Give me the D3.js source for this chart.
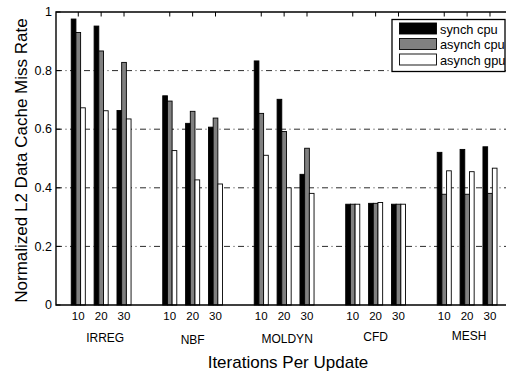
<!DOCTYPE html>
<html>
<head>
<meta charset="utf-8">
<script src="https://cdn.jsdelivr.net/npm/d3@7"></script>
<style>
  html, body { margin: 0; padding: 0; background: #fff; }
  svg { display: block; }
  text { font-family: "Liberation Sans", Arial, Helvetica, sans-serif; fill: #000; }
</style>
</head>
<body>
<svg id="chart" width="507" height="375"></svg>
<script>
// ---- data ----
const categories = ["IRREG", "NBF", "MOLDYN", "CFD", "MESH"];
const iterations = ["10", "20", "30"];
const seriesNames = ["synch cpu", "asynch cpu", "asynch gpu"];
const synchCpu  = [0.976, 0.952, 0.664, 0.714, 0.620, 0.607, 0.833, 0.702, 0.446, 0.344, 0.347, 0.344, 0.521, 0.531, 0.540];
const asynchCpu = [0.930, 0.867, 0.828, 0.696, 0.661, 0.638, 0.654, 0.592, 0.535, 0.344, 0.347, 0.344, 0.378, 0.378, 0.381];
const asynchGpu = [0.673, 0.663, 0.635, 0.527, 0.427, 0.413, 0.511, 0.400, 0.381, 0.344, 0.350, 0.344, 0.458, 0.455, 0.467];
const yTicks = [0, 0.2, 0.4, 0.6, 0.8, 1];
const yTickLabels = ["0", "0.2", "0.4", "0.6", "0.8", "1"];

// ---- layout / style ----
const fills = ["#000000", "#808080", "#ffffff"];
const catLabelDx = [4, 0, 3, 0, 2];
const catLabelY = [342, 343.5, 342.5, 340.5, 339.5];
const L = 56, R = 506, T = 12, B = 305;

const svg = d3.select("#chart");

// positions: group i, iteration j -> i*4 + j + 1
const pos = (i, j) => i * (iterations.length + 1) + j + 1;
const x = d3.scaleLinear().domain([0, 19.7]).range([L - 0.6, R]);
const y = d3.scaleLinear().domain([0, 1]).range([B, T]);
const unit = x(1) - x(0);
const bw = unit * 0.205;

// grid lines
const gridVals = yTicks.filter(v => v > 0 && v < 1);
svg.append("g").selectAll("line").data(gridVals).join("line")
  .attr("x1", L).attr("x2", R)
  .attr("y1", d => y(d)).attr("y2", d => y(d))
  .attr("stroke", "#2a2a2a").attr("stroke-width", 1)
  .attr("stroke-dasharray", "6,3.5,1,3.5");

// bars
const allSeries = [synchCpu, asynchCpu, asynchGpu];
const barData = [];
categories.forEach((c, i) => {
  iterations.forEach((it, j) => {
    allSeries.forEach((s, k) => {
      barData.push({ p: pos(i, j), k, v: s[i * iterations.length + j] });
    });
  });
});
svg.append("g").selectAll("rect").data(barData).join("rect")
  .attr("x", d => x(d.p) + (d.k - 1.5) * bw)
  .attr("width", bw)
  .attr("y", d => y(d.v))
  .attr("height", d => y(0) - y(d.v))
  .attr("fill", d => fills[d.k])
  .attr("stroke", "#000").attr("stroke-width", 0.9);

// frame
svg.append("path")
  .attr("d", `M${R},${T}H${L}V${B}H${R}`)
  .attr("fill", "none").attr("stroke", "#000").attr("stroke-width", 1.4);

// y ticks (inward, left)
const tl = 4.5;
svg.append("g").selectAll("line").data(yTicks).join("line")
  .attr("x1", L).attr("x2", L + tl)
  .attr("y1", d => y(d)).attr("y2", d => y(d))
  .attr("stroke", "#000").attr("stroke-width", 1);
svg.append("g").selectAll("text").data(yTicks).join("text")
  .attr("x", L - 4).attr("y", d => y(d) + 4.2)
  .attr("text-anchor", "end").attr("font-size", 12.5)
  .text((d, i) => yTickLabels[i]);

// x ticks (top, inward) and labels
const xTickData = [];
categories.forEach((c, i) => iterations.forEach((it, j) => xTickData.push({ p: pos(i, j), label: it })));
svg.append("g").selectAll("line").data(xTickData).join("line")
  .attr("x1", d => x(d.p)).attr("x2", d => x(d.p))
  .attr("y1", T).attr("y2", T + tl)
  .attr("stroke", "#000").attr("stroke-width", 1);
svg.append("g").selectAll("text").data(xTickData).join("text")
  .attr("x", d => x(d.p)).attr("y", 320)
  .attr("text-anchor", "middle").attr("font-size", 11.5)
  .text(d => d.label);

// category labels
svg.append("g").selectAll("text").data(categories).join("text")
  .attr("x", (d, i) => x(pos(i, 1)) + catLabelDx[i])
  .attr("y", (d, i) => catLabelY[i])
  .attr("text-anchor", "middle").attr("font-size", 12)
  .text(d => d);

// axis titles
svg.append("text")
  .attr("x", 288).attr("y", 367.5)
  .attr("text-anchor", "middle").attr("font-size", 17)
  .text("Iterations Per Update");
svg.append("text")
  .attr("transform", `translate(27,${(T + B) / 2 + 2}) rotate(-90)`)
  .attr("text-anchor", "middle").attr("font-size", 17)
  .text("Normalized L2 Data Cache Miss Rate");

// legend
const lg = svg.append("g");
lg.append("rect").attr("x", 392).attr("y", 19.5).attr("width", 113).attr("height", 52)
  .attr("fill", "#fff").attr("stroke", "#000").attr("stroke-width", 1.3);
const rows = lg.selectAll("g.row").data(seriesNames).join("g").attr("class", "row")
  .attr("transform", (d, i) => `translate(0,${i * 15.5})`);
rows.append("rect").attr("x", 399.5).attr("y", 23).attr("width", 37).attr("height", 11)
  .attr("fill", (d, i) => fills[i]).attr("stroke", "#000").attr("stroke-width", 0.9);
rows.append("text").attr("x", 440).attr("y", 33.5).attr("font-size", 12.8).text(d => d);
</script>
</body>
</html>
